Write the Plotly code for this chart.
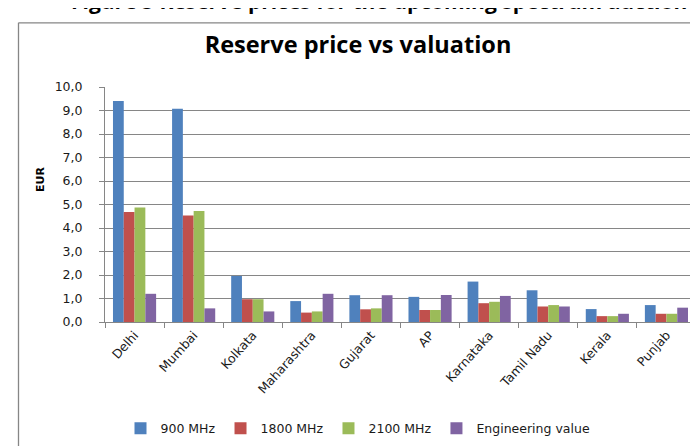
import plotly.graph_objects as go

categories = ["Delhi", "Mumbai", "Kolkata", "Maharashtra", "Gujarat", "AP",
              "Karnataka", "Tamil Nadu", "Kerala", "Punjab"]
mhz900 = [9.40, 9.07, 1.96, 0.89, 1.14, 1.07, 1.72, 1.35, 0.55, 0.72]
mhz1800 = [4.68, 4.53, 0.97, 0.40, 0.54, 0.51, 0.80, 0.66, 0.25, 0.35]
mhz2100 = [4.87, 4.72, 0.97, 0.45, 0.58, 0.51, 0.86, 0.72, 0.25, 0.35]
engineering = [1.20, 0.58, 0.45, 1.20, 1.14, 1.15, 1.11, 0.66, 0.35, 0.61]
series_names = ["900 MHz", "1800 MHz", "2100 MHz", "Engineering value"]
series_colors = ["#4F81BD", "#C0504D", "#9BBB59", "#8064A2"]
y_ticks = [0, 1, 2, 3, 4, 5, 6, 7, 8, 9, 10]

W, H = 698, 446
ML, MR, MT, MB = 97, 10, 79, 127
PW, PH = W - ML - MR, H - MT - MB


def px_x(p):
    return (p - ML) / PW


def px_y(p):
    return (MT + PH - p) / PH


fig = go.Figure()
for name, vals, col in zip(series_names, [mhz900, mhz1800, mhz2100, engineering], series_colors):
    fig.add_trace(go.Bar(x=categories, y=vals, name=name,
                         marker=dict(color=col, line=dict(width=0))))

grid = "#868686"
tick_font = dict(family="DejaVu Sans", size=12.5, color="#1a1a1a")

fig.update_layout(
    width=W, height=H,
    margin=dict(l=ML, r=MR, t=MT, b=MB, pad=0),
    paper_bgcolor="white", plot_bgcolor="white",
    barmode="group", bargap=0.27, bargroupgap=0,
    separators=",.",
    title=dict(text="<b>Reserve price vs valuation</b>",
               font=dict(family="Open Sans", size=23.5, color="#000"),
               x=350 / W, xanchor="center", y=1 - 37 / H, yanchor="middle"),
    legend=dict(orientation="h", x=px_x(350), xanchor="center",
                y=px_y(428), yanchor="middle",
                font=dict(family="DejaVu Sans", size=12.5, color="#1a1a1a"),
                itemwidth=30, traceorder="normal"),
    xaxis=dict(type="category", showline=True, linecolor=grid, linewidth=1,
               ticks="outside", tickson="boundaries", ticklen=5, tickcolor=grid,
               tickangle=-48, tickfont=dict(family="DejaVu Sans", size=12.5, color="#1a1a1a"),
               showgrid=False),
    yaxis=dict(range=[0, 10], tickvals=y_ticks, tickformat=".1f",
               showline=True, linecolor=grid, linewidth=1,
               ticks="outside", ticklen=5, tickcolor=grid, ticklabelstandoff=14,
               showgrid=True, gridcolor=grid, gridwidth=1,
               tickfont=tick_font, zeroline=False),
    annotations=[
        dict(text="<b>EUR</b>", textangle=-90, xref="paper", yref="paper",
             x=px_x(32), y=px_y(174), xanchor="center", yanchor="middle",
             showarrow=False, font=dict(family="DejaVu Sans", size=11, color="#000")),
        dict(text="<b>Figure 5 Reserve prices for the upcoming spectrum auction</b>",
             xref="paper", yref="paper", x=px_x(371), y=px_y(-9),
             xanchor="center", yanchor="middle", showarrow=False,
             font=dict(family="Open Sans", size=21, color="#000")),
    ],
    shapes=[
        dict(type="line", xref="paper", yref="paper", x0=px_x(10.5), x1=px_x(10.5),
             y0=px_y(13.5), y1=px_y(450), line=dict(color=grid, width=1.3)),
        dict(type="line", xref="paper", yref="paper", x0=px_x(10.5), x1=px_x(700),
             y0=px_y(13.5), y1=px_y(13.5), line=dict(color=grid, width=1.3)),
    ],
)

fig.write_html("out.html")
